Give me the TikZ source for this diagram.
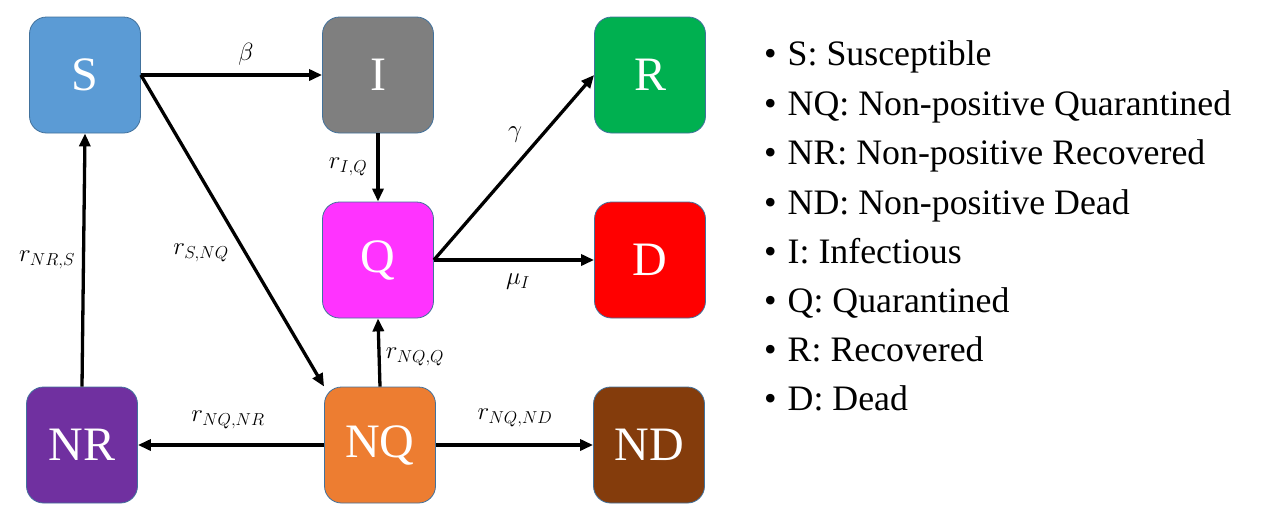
\documentclass[tikz,border=0pt]{standalone}
\usepackage{fontspec}
\setmainfont{Liberation Serif}
\usetikzlibrary{arrows.meta}
\definecolor{cS}{HTML}{5B9BD5}
\definecolor{cI}{HTML}{7F7F7F}
\definecolor{cQ}{HTML}{FF33FF}
\definecolor{cR}{HTML}{00B050}
\definecolor{cD}{HTML}{FF0000}
\definecolor{cNR}{HTML}{7030A0}
\definecolor{cNQ}{HTML}{ED7D31}
\definecolor{cND}{HTML}{843C0C}
\definecolor{cB}{HTML}{41719C}
\tikzset{
  comp/.style={draw=cB, line width=0.8pt, rounded corners=17pt, minimum width=111pt, minimum height=116pt, inner sep=0pt, text=white, font=\fontsize{48}{52}\selectfont},
  flow/.style={line width=3.3pt, -{Triangle[length=13pt,width=11pt]}},
  lab/.style={inner sep=0pt, font=\fontsize{25}{29}\selectfont},
  leg/.style={anchor=base west, inner sep=0pt, font=\fontsize{35.8}{40}\selectfont}
}
\begin{document}
\begin{tikzpicture}[x=1pt,y=-1pt]
\useasboundingbox (0,0) rectangle (1263,525);
\node[comp, fill=cS] (S) at (85,75) {S};
\node[comp, fill=cI] (I) at (378,75) {I};
\node[comp, fill=cR] (R) at (650,75) {R};
\node[comp, fill=cQ] (Q) at (378,260) {Q};
\node[comp, fill=cD] (D) at (650,260) {D};
\node[comp, fill=cNR] (NR) at (82,445) {NR};
\node[comp, fill=cNQ] (NQ) at (380,445) {NQ};
\node[comp, fill=cND] (ND) at (649,445) {ND};

\draw[flow] (S.east) -- (I.west);
\draw[flow] (S.east) -- (NQ.north west);
\draw[flow] (I.south) -- (Q.north);
\draw[flow] (NR.north) -- (S.south);
\draw[flow] (NQ.north) -- (Q.south);
\draw[flow] (NQ.west) -- (NR.east);
\draw[flow] (NQ.east) -- (ND.west);
\draw[flow] (Q.east) -- (R.west);
\draw[flow] (Q.east) -- (D.west);

\node[lab] (lbeta) at (246,54) {$\beta$};
\node[lab] (lIQ) at (348,167) {$r_{I,Q}$};
\node[lab] (lNRS) at (47,260) {$r_{NR,S}$};
\node[lab] (lSNQ) at (201,253) {$r_{S,NQ}$};
\node[lab] (lNQQ) at (415,357) {$r_{NQ,Q}$};
\node[lab] (lNQNR) at (228,420) {$r_{NQ,NR}$};
\node[lab] (lNQND) at (515,418) {$r_{NQ,ND}$};
\node[lab] (lgamma) at (515,135) {$\gamma$};
\node[lab] (lmu) at (518,282) {$\mu_I$};

\node[leg] (g1) at (764,65) {\textbullet\hspace{11pt}S: Susceptible};
\node[leg] (g2) at (764,115) {\textbullet\hspace{11pt}NQ: Non-positive Quarantined};
\node[leg] (g3) at (764,164) {\textbullet\hspace{11pt}NR: Non-positive Recovered};
\node[leg] (g4) at (764,214) {\textbullet\hspace{11pt}ND: Non-positive Dead};
\node[leg] (g5) at (764,263) {\textbullet\hspace{11pt}I: Infectious};
\node[leg] (g6) at (764,312) {\textbullet\hspace{11pt}Q: Quarantined};
\node[leg] (g7) at (764,361) {\textbullet\hspace{11pt}R: Recovered};
\node[leg] (g8) at (764,410) {\textbullet\hspace{11pt}D: Dead};
\end{tikzpicture}
\end{document}
